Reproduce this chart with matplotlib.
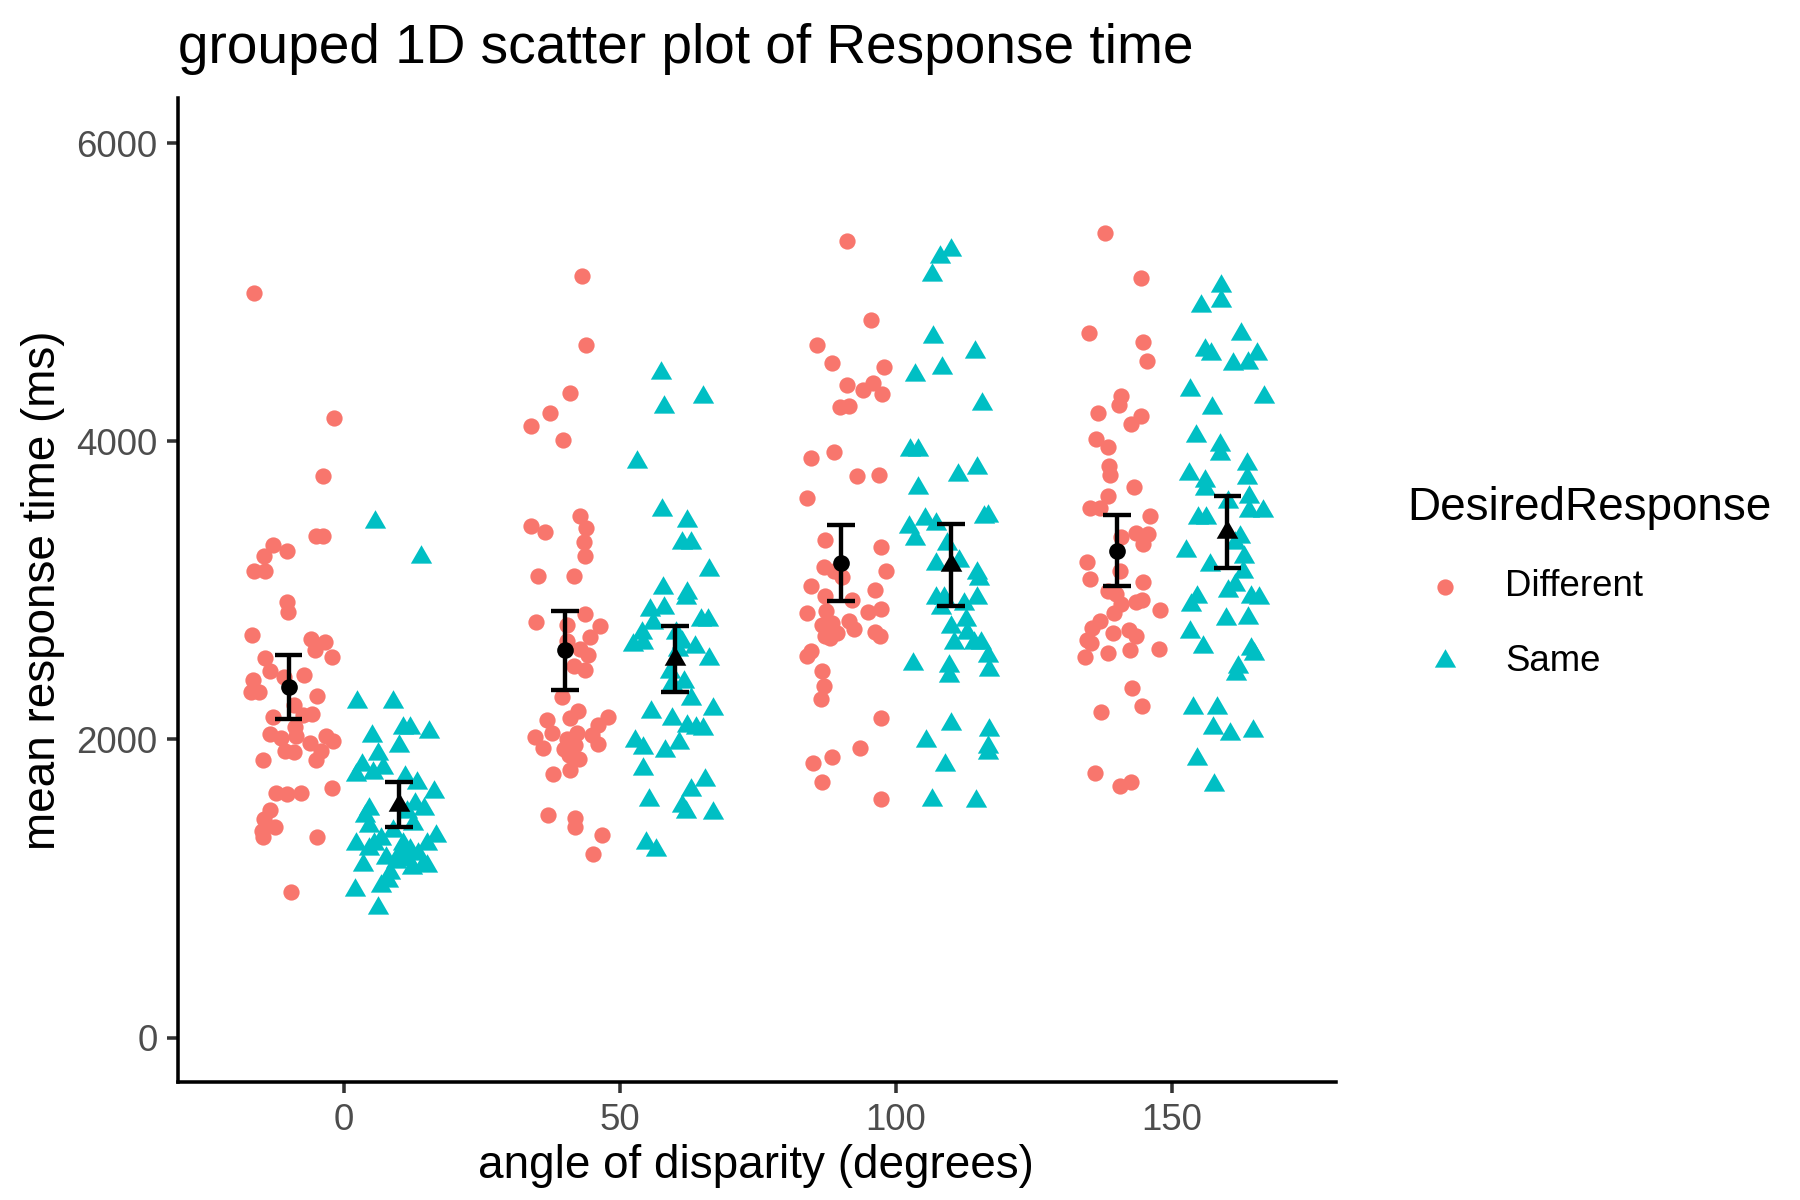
import numpy as np
import matplotlib
matplotlib.use("Agg")
import matplotlib.pyplot as plt
from matplotlib.lines import Line2D

plt.rcParams['font.family'] = ['Liberation Sans', 'DejaVu Sans']

# jittered angle (degrees) and mean response time (ms)
diff0_x = [-16.2, -1.8, -3.8, -5.0, -3.7, -12.8, -14.4, -16.2, -14.2, -10.3, -10.3, -10.1, -16.7,
           -5.9, -3.5, -5.2, -2.1, -14.2, -13.3, -16.5, -16.9, -15.3, -10.8, -7.3, -4.9, -9.1,
           -5.8, -7.4, -12.9, -8.8, -13.3, -11.3, -8.7, -6.1, -3.2, -1.9, -4.1, -10.6, -9.1,
           -14.6, -5.0, -2.1, -12.2, -10.3, -7.8, -13.4, -14.4, -12.5, -14.9, -14.6, -4.9, -9.6]
diff0_y = [4992, 4159, 3764, 3363, 3363, 3306, 3230, 3128, 3128, 3264, 2925, 2854, 2699,
           2676, 2651, 2600, 2552, 2544, 2459, 2402, 2318, 2318, 2416, 2430, 2295, 2233,
           2168, 2163, 2148, 2083, 2035, 2007, 2021, 1979, 2021, 1993, 1922, 1922, 1914,
           1860, 1860, 1677, 1640, 1632, 1640, 1527, 1470, 1414, 1386, 1343, 1343, 979]

same0_x = [5.7, 13.9, 2.4, 8.9, 10.7, 11.9, 15.4, 5.1, 10.0, 6.2, 3.3, 2.2, 5.3, 7.1, 11.0,
           13.2, 16.4, 4.5, 12.9, 14.5, 3.9, 11.4, 12.6, 4.6, 2.2, 4.6, 6.8, 8.9, 16.6, 15.1,
           7.7, 9.9, 11.7, 13.5, 14.4, 3.5, 12.3, 8.3, 15.1, 8.0, 6.8, 2.0, 6.1, 10.8, 5.5,
           9.5, 12.0]
same0_y = [3461, 3223, 2249, 2249, 2079, 2074, 2049, 2022, 1959, 1902, 1829, 1761, 1773, 1807, 1750,
           1709, 1648, 1535, 1569, 1535, 1490, 1512, 1433, 1422, 1297, 1263, 1331, 1388, 1354, 1297,
           1206, 1229, 1195, 1229, 1161, 1161, 1138, 1104, 1150, 1048, 1014, 991, 867, 1297, 1300,
           1180, 1260]

diff50_x = [43.2, 43.8, 41.0, 37.3, 33.9, 39.6, 33.9, 36.4, 42.8, 43.8, 43.4, 43.7, 35.1, 41.6,
            34.8, 43.6, 46.4, 40.4, 44.6, 40.4, 42.8, 44.3, 41.6, 43.7, 39.5, 42.4, 41.0, 36.7,
            47.9, 46.1, 34.6, 37.7, 40.4, 42.2, 44.9, 36.0, 39.8, 41.9, 40.7, 46.1, 42.5, 37.8,
            41.0, 37.0, 41.8, 41.8, 46.8, 45.1]
diff50_y = [5109, 4646, 4323, 4191, 4104, 4006, 3435, 3390, 3496, 3416, 3324, 3231, 3099, 3094,
            2787, 2840, 2763, 2768, 2689, 2662, 2609, 2570, 2490, 2464, 2287, 2191, 2147, 2128,
            2152, 2094, 2020, 2041, 2001, 2041, 2027, 1940, 1935, 1962, 1895, 1969, 1869, 1771,
            1795, 1493, 1472, 1411, 1361, 1234]

same50_x = [57.4, 65.0, 58.0, 53.0, 57.7, 62.1, 61.2, 62.8, 66.2, 57.8, 62.1, 61.9, 55.5, 58.0,
            64.7, 65.9, 55.9, 54.0, 52.3, 54.1, 60.1, 61.3, 63.5, 66.1, 59.5, 61.6, 62.8, 55.6,
            66.8, 59.5, 62.2, 63.8, 65.0, 52.7, 54.1, 58.2, 60.7, 54.1, 65.4, 62.8, 55.3, 61.2,
            61.9, 66.8, 54.8, 56.5, 60.5, 59.0]
same50_y = [4461, 4299, 4231, 3863, 3541, 3464, 3317, 3317, 3137, 3017, 2983, 2949, 2866, 2882,
            2803, 2803, 2780, 2713, 2634, 2645, 2713, 2656, 2622, 2543, 2374, 2385, 2273, 2182,
            2205, 2137, 2092, 2074, 2070, 1991, 1946, 1923, 1979, 1799, 1727, 1664, 1596, 1551,
            1517, 1510, 1307, 1258, 2600, 2450]

diff100_x = [91.1, 95.5, 85.7, 88.4, 97.8, 91.1, 94.1, 95.8, 97.5, 89.8, 91.4, 84.6, 88.8, 93.0,
             97.0, 83.8, 87.2, 97.3, 86.9, 88.7, 90.2, 98.1, 84.6, 87.2, 92.1, 96.2, 83.8, 87.3,
             95.0, 97.3, 86.6, 88.4, 91.4, 92.3, 87.2, 89.3, 96.2, 97.1, 88.1, 84.6, 83.8, 86.6,
             87.0, 86.4, 97.3, 93.4, 88.4, 85.0, 86.6, 97.3]
diff100_y = [5344, 4815, 4643, 4528, 4497, 4379, 4343, 4392, 4318, 4228, 4238, 3886, 3925, 3766,
             3776, 3622, 3335, 3289, 3160, 3130, 3091, 3130, 3027, 2963, 2937, 3006, 2847, 2860,
             2852, 2873, 2770, 2783, 2796, 2740, 2693, 2714, 2724, 2693, 2680, 2591, 2560, 2462,
             2360, 2270, 2147, 1944, 1885, 1839, 1718, 1602]

same100_x = [109.9, 107.9, 106.6, 106.7, 114.3, 108.3, 103.4, 115.5, 102.6, 103.9, 114.6, 111.2,
             104.0, 116.0, 116.6, 105.2, 107.2, 102.3, 103.5, 109.3, 107.2, 111.4, 114.6, 115.0,
             107.2, 108.7, 114.7, 112.3, 108.1, 109.9, 112.6, 112.9, 110.5, 114.1, 115.3, 116.7,
             103.1, 109.6, 116.9, 109.6, 109.9, 116.9, 105.4, 116.6, 116.7, 108.9, 106.6, 114.4]
same100_y = [5281, 5237, 5118, 4697, 4599, 4490, 4443, 4251, 3945, 3945, 3821, 3771,
             3686, 3491, 3499, 3478, 3444, 3426, 3348, 3310, 3180, 3198, 3115, 3076,
             2946, 2946, 2946, 2907, 2881, 2752, 2804, 2713, 2648, 2648, 2648, 2557,
             2505, 2492, 2466, 2428, 2103, 2064, 1987, 1948, 1909, 1831, 1597, 1590]

diff150_x = [137.8, 144.3, 134.9, 144.8, 145.4, 140.8, 140.3, 136.5, 144.3, 142.5, 136.3, 138.4,
             138.5, 138.8, 143.1, 138.3, 135.1, 136.9, 146.0, 143.5, 145.7, 144.8, 140.8, 134.5,
             135.1, 140.5, 144.8, 138.4, 139.9, 140.8, 143.5, 144.5, 147.8, 136.9, 139.5, 139.2,
             142.2, 143.5, 135.4, 134.5, 135.3, 138.3, 142.3, 147.7, 134.2, 142.8, 144.5, 137.2,
             136.1, 140.5, 142.6]
diff150_y = [5398, 5097, 4726, 4667, 4542, 4305, 4246, 4190, 4169, 4113, 4016, 3965,
             3837, 3776, 3691, 3633, 3551, 3551, 3500, 3385, 3377, 3308, 3359, 3193,
             3078, 3129, 3058, 2999, 2976, 2912, 2925, 2938, 2866, 2797, 2848, 2713,
             2733, 2695, 2746, 2669, 2644, 2580, 2598, 2605, 2554, 2345, 2222, 2184,
             1775, 1686, 1712]

same150_x = [158.9, 158.8, 155.2, 162.5, 156.0, 157.0, 161.0, 163.7, 165.3, 153.2, 166.6, 157.3,
             154.4, 158.6, 158.6, 163.6, 163.6, 153.0, 155.9, 156.0, 164.0, 160.1, 164.0, 166.5,
             154.7, 156.2, 162.2, 161.3, 152.5, 163.1, 156.8, 162.8, 161.3, 160.1, 154.5, 153.5,
             164.3, 165.7, 159.8, 163.7, 153.2, 155.6, 164.3, 164.9, 161.9, 161.6, 153.8, 158.1,
             157.4, 160.4, 164.6, 154.5, 157.6]
same150_y = [5039, 4938, 4908, 4720, 4610, 4587, 4516, 4528, 4587, 4345, 4298, 4223,
             4036, 3977, 3914, 3848, 3754, 3778, 3731, 3679, 3626, 3590, 3532, 3532,
             3485, 3485, 3356, 3321, 3262, 3227, 3168, 3122, 3039, 2993, 2958, 2899,
             2958, 2946, 2805, 2817, 2723, 2618, 2606, 2571, 2489, 2442, 2208, 2208,
             2079, 2039, 2055, 1868, 1695]

angles = [0, 50, 100, 150]
dodge = 10          # Different at angle-10, Same at angle+10
ci_mult = 2.01      # t quantile for 95% CI, n ~ 50

different = [(diff0_x, diff0_y), (diff50_x, diff50_y), (diff100_x, diff100_y), (diff150_x, diff150_y)]
same = [(same0_x, same0_y), (same50_x, same50_y), (same100_x, same100_y), (same150_x, same150_y)]

col_diff = '#F8766D'
col_same = '#00BFC4'
tri = [(0, 0.5774), (-0.5, -0.2887), (0.5, -0.2887)]   # equilateral triangle marker

fig = plt.figure(figsize=(6, 4), dpi=300)
ax = fig.add_axes([0.099, 0.098, 0.643, 0.820])

for x, y in different:
    ax.scatter(x, y, s=3.9**2, marker='o', color=col_diff, linewidths=0, zorder=2)
for x, y in same:
    ax.scatter(x, y, s=5.9**2, marker=tri, color=col_same, linewidths=0, zorder=2)

# mean +/- 95% CI
def summary(groups, offset, marker, size):
    for a, (x, y) in zip(angles, groups):
        y = np.array(y, dtype=float)
        m = y.mean()
        h = ci_mult * y.std(ddof=1) / np.sqrt(len(y))
        xc = a + offset
        ax.vlines(xc, m - h, m + h, color='black', linewidth=1.05, zorder=3)
        ax.hlines([m - h, m + h], xc - 2.5, xc + 2.5, color='black', linewidth=1.05, zorder=3)
        ax.scatter([xc], [m], s=size**2, marker=marker, color='black', linewidths=0, zorder=4)

summary(different, -dodge, 'o', 4.0)
summary(same, dodge, tri, 6.0)

ax.set_xlim(-30, 179.6)
ax.set_ylim(-300, 6300)
ax.set_xticks([0, 50, 100, 150])
ax.set_yticks([0, 2000, 4000, 6000])
for s in ['top', 'right']:
    ax.spines[s].set_visible(False)
for s in ['left', 'bottom']:
    ax.spines[s].set_linewidth(0.85)
    ax.spines[s].set_color('black')
ax.tick_params(axis='both', length=2.75, width=0.85, color='#333333',
               labelsize=8.8, labelcolor='#4D4D4D', pad=2.2)

fig.text(0.099, 0.9475, 'grouped 1D scatter plot of Response time', fontsize=13.2,
         ha='left', va='baseline')
fig.text(0.42, 0.028, 'angle of disparity (degrees)', fontsize=11, ha='center', va='center')
fig.text(0.024, 0.508, 'mean response time (ms)', fontsize=11, ha='center', va='center',
         rotation=90)

# legend
fig.text(0.782, 0.577, 'DesiredResponse', fontsize=11, ha='left', va='center')
fig.add_artist(Line2D([0.803], [0.511], marker='o', markersize=3.9, color=col_diff,
                      markeredgewidth=0, linestyle='none', transform=fig.transFigure))
fig.add_artist(Line2D([0.803], [0.449], marker=tri, markersize=5.9, color=col_same,
                      markeredgewidth=0, linestyle='none', transform=fig.transFigure))
fig.text(0.836, 0.511, 'Different', fontsize=8.8, ha='left', va='center')
fig.text(0.836, 0.449, 'Same', fontsize=8.8, ha='left', va='center')

fig.savefig('out.png', dpi=300)
